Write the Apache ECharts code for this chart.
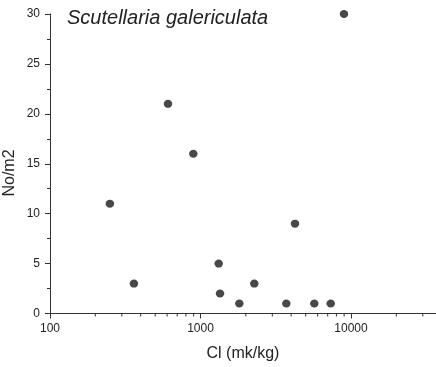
<!DOCTYPE html>
<html><head><meta charset="utf-8">
<script src="https://cdn.jsdelivr.net/npm/echarts@6/dist/echarts.min.js"></script>
<style>html,body{margin:0;padding:0;background:#fff}#c{width:436px;height:367px}</style>
</head><body><div id="c"></div>
<script>
const titleText = 'Scutellaria galericulata';
const xName = 'Cl (mk/kg)';
const yName = 'No/m2';
const clValues = [250, 361, 608, 896, 8980, 1321, 1348, 1811, 2277, 3716, 4245, 5703, 7330];
const densityValues = [11, 3, 21, 16, 30, 5, 2, 1, 3, 1, 9, 1, 1];
const xMajorTicks = [100, 1000, 10000];
const xMinorTicks = [200,300,400,500,600,700,800,900,2000,3000,4000,5000,6000,7000,8000,9000,20000,30000];
const yTicks = [0, 5, 10, 15, 20, 25, 30];

const FONT = 'Liberation Sans, Arial, sans-serif';
const AX = '#333';
const chart = echarts.init(document.getElementById('c'));
chart.setOption({
  animation: false,
  backgroundColor: '#fff',
  grid: { left: 50, top: 14, right: 0, height: 299.5 },
  xAxis: {
    type: 'log', logBase: 10, min: 100, max: 36700,
    name: xName, nameLocation: 'middle', nameGap: 32,
    nameTextStyle: { fontFamily: FONT, fontSize: 16, color: '#222', padding: [0, 0, 0, 0] },
    axisLine: { show: true, lineStyle: { color: AX, width: 1 } },
    axisTick: { show: true, inside: false, length: 5, lineStyle: { color: AX } },
    minorTick: { show: false },
    splitLine: { show: false },
    axisLabel: {
      fontFamily: FONT, fontSize: 12, color: '#222', margin: 9,
      showMaxLabel: false,
      formatter: v => xMajorTicks.indexOf(Math.round(v)) >= 0 ? String(Math.round(v)) : ''
    }
  },
  yAxis: {
    type: 'value', min: yTicks[0], max: yTicks[yTicks.length-1], interval: 5,
    axisLine: { show: true, lineStyle: { color: AX, width: 1 } },
    axisTick: { show: true, inside: false, length: 5, lineStyle: { color: AX } },
    minorTick: { show: true, splitNumber: 2, length: 3, lineStyle: { color: AX } },
    splitLine: { show: false },
    axisLabel: { fontFamily: FONT, fontSize: 12, color: '#222', margin: 10 }
  },
  graphic: [
    { type: 'text', left: 67, top: 8, style: { text: titleText, font: 'italic 20px ' + FONT, fill: '#222' } },
    { type: 'text', x: 10, y: 173, rotation: Math.PI/2,
      style: { text: yName, font: '16px ' + FONT, fill: '#222', align: 'center', verticalAlign: 'middle' } }
  ],
  series: [
    {
      type: 'custom', silent: true, clip: false,
      data: xMinorTicks.map(v => [v, 0]),
      renderItem: function (params, api) {
        const p = api.coord([api.value(0), 0]);
        return { type: 'line', shape: { x1: p[0], y1: p[1], x2: p[0], y2: p[1] + 3 },
                 style: { stroke: AX, lineWidth: 1 } };
      }
    },
    {
      type: 'scatter', symbol: 'circle', symbolSize: [8.5, 8],
      itemStyle: { color: '#1a1a1a' },
      data: clValues.map((x, i) => [x, densityValues[i]])
    }
  ]
});
</script></body></html>
